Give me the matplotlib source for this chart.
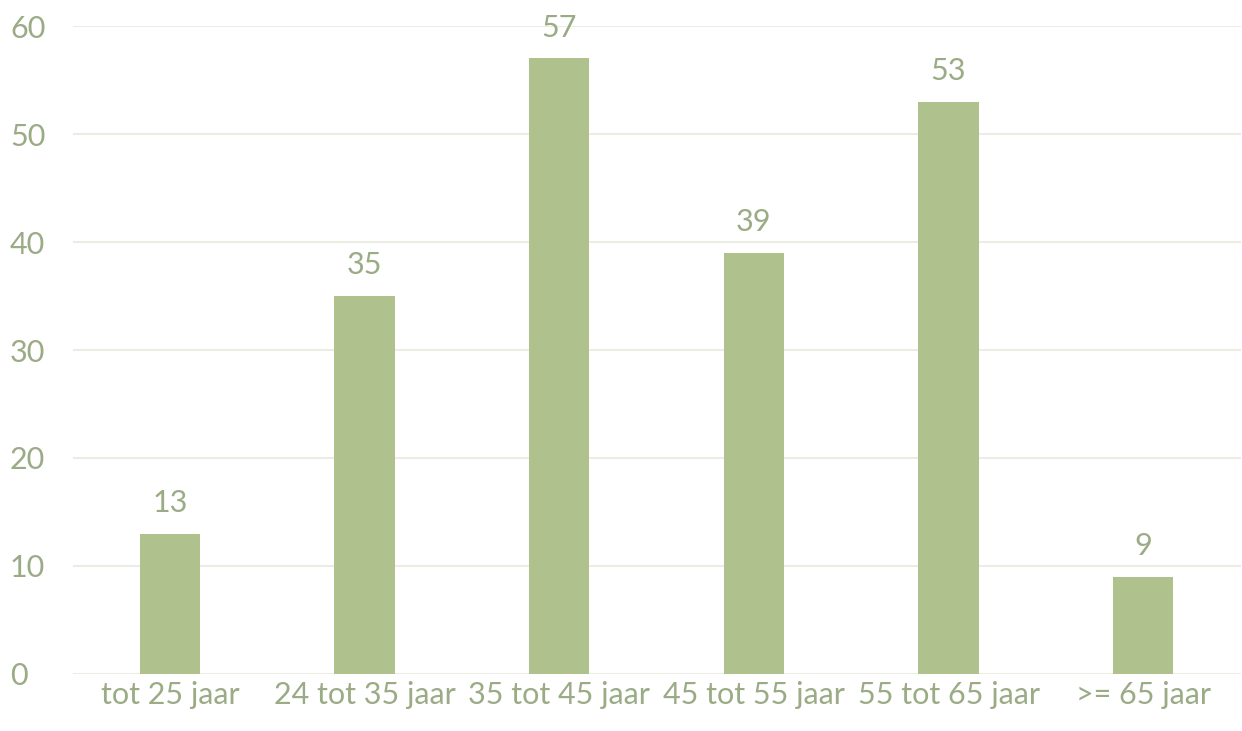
import matplotlib
matplotlib.use("Agg")
import matplotlib.pyplot as plt
import numpy as np

plt.rcParams['font.family'] = ['Lato', 'DejaVu Sans']

labels = ['tot 25 jaar', '24 tot 35 jaar', '35 tot 45 jaar',
          '45 tot 55 jaar', '55 tot 65 jaar', '>= 65 jaar']
values = [13, 35, 57, 39, 53, 9]

bar_color = '#afc28e'
text_color = '#9aab85'
grid_color = '#ececE4'

fig = plt.figure(figsize=(12.42, 7.31), dpi=100)
ax = fig.add_axes([0.0584, 0.078, 0.9404, 0.8864])

x = np.arange(len(labels))
rects = ax.bar(x, values, 0.31, color=bar_color, zorder=2)

for rect in rects:
    h = rect.get_height()
    ax.annotate('{:.0f}'.format(h),
                xy=(rect.get_x() + rect.get_width() / 2, h),
                xytext=(0, 12), textcoords="offset points",
                ha='center', va='bottom', fontsize=22, color=text_color,
                annotation_clip=False)

ax.set_xlim(-0.5, len(labels) - 0.5)
ax.set_ylim(0, 60)
ax.set_yticks(range(0, 61, 10))
ax.set_xticks(x)
ax.set_xticklabels(labels)
ax.tick_params(axis='both', length=0, labelsize=22, labelcolor=text_color)
ax.tick_params(axis='x', pad=5)
ax.tick_params(axis='y', pad=45)
for lab in ax.get_yticklabels():
    lab.set_horizontalalignment('left')

ax.grid(True, axis='y', color=grid_color, linewidth=1.5, zorder=0)
for s in ax.spines.values():
    s.set_visible(False)

fig.savefig("out.png", dpi=100)
